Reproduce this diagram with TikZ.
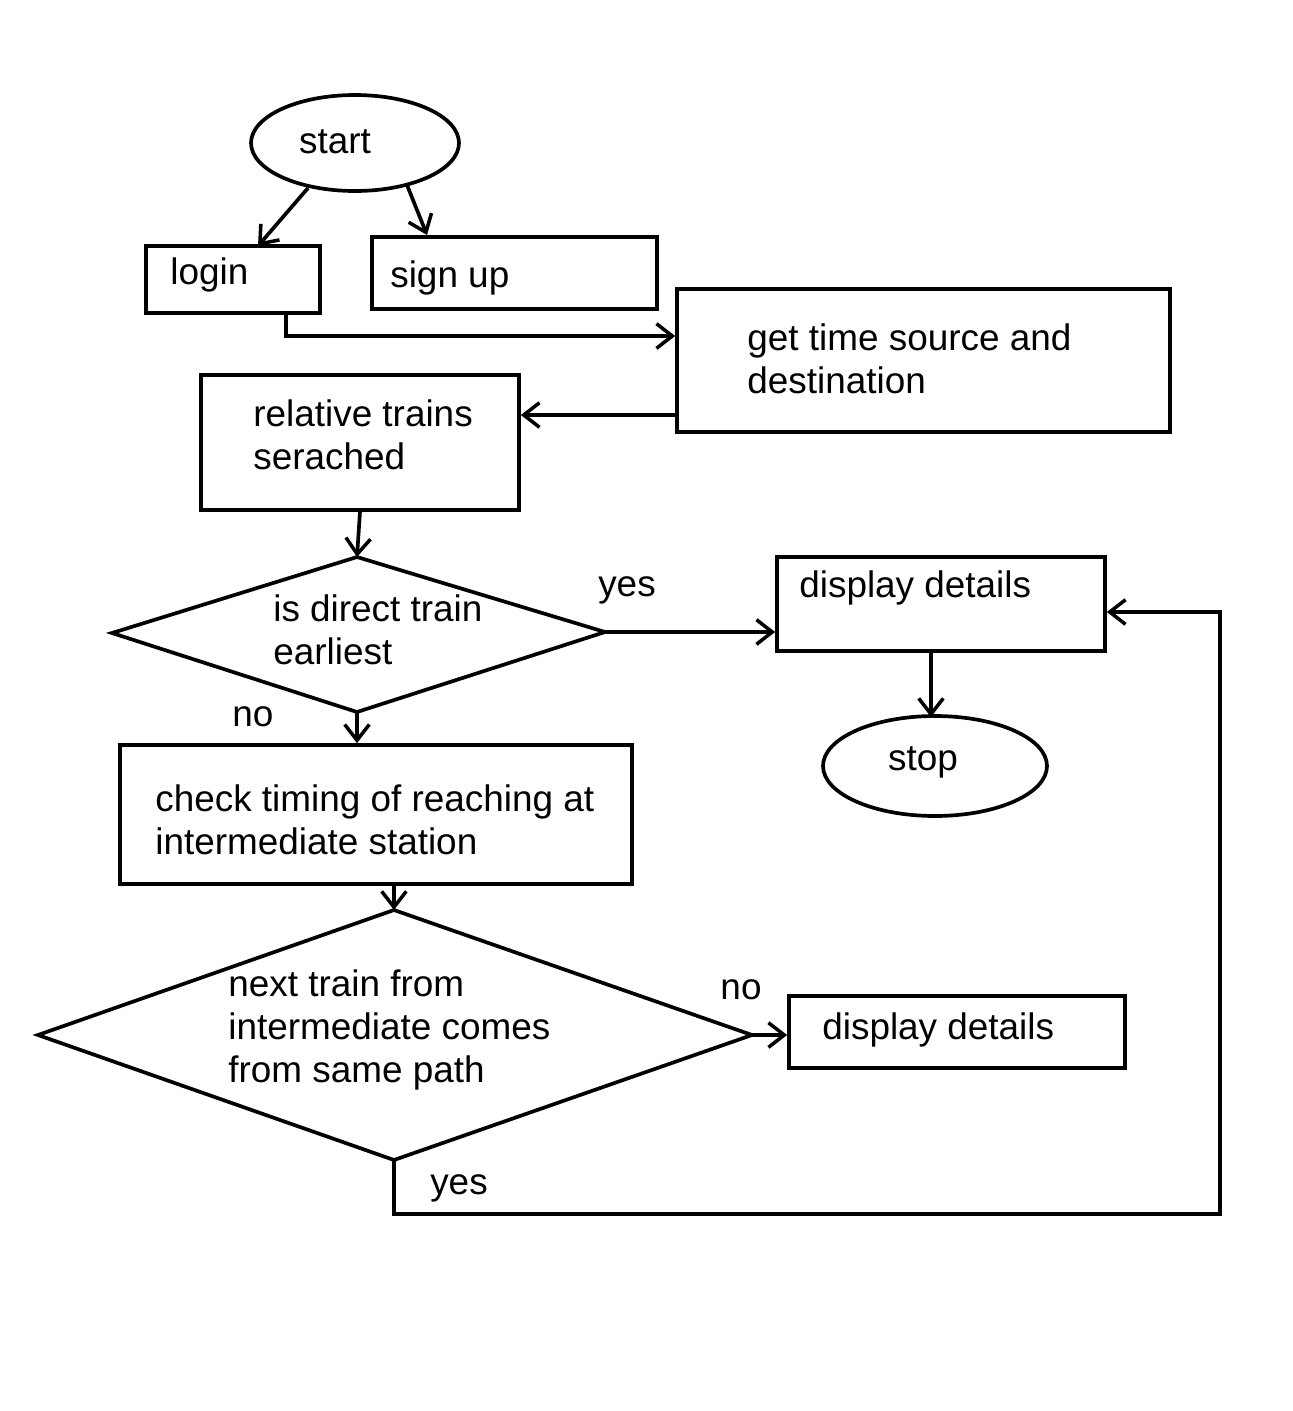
\documentclass[tikz,border=0pt]{standalone}
\usepackage{fontspec}
\setmainfont{Liberation Sans}
\usetikzlibrary{arrows.meta,shapes.geometric}
\begin{document}
\begin{tikzpicture}[x=0.02cm,y=-0.02cm,
  lw/.style={line width=2.1pt},
  box/.style={draw,lw,rectangle,inner sep=0pt},
  oval/.style={draw,lw,ellipse,inner sep=0pt},
  dia/.style={draw,lw,line join=miter},
  txt/.style={font=\fontsize{21}{24.5}\selectfont,anchor=west,align=left,inner sep=0pt},
  arr/.style={-{Straight Barb[length=9pt,width=14pt,line width=2pt]},lw},
  lbl/.style={font=\fontsize{21}{24.5}\selectfont,inner sep=0pt}]
\useasboundingbox (0,0) rectangle (1293,1411);
% shapes
\node[oval,minimum width=208*0.02cm,minimum height=96*0.02cm] (start) at (355,143) {};
\node[txt,anchor=center] at (335,142) {start};
\node[box,minimum width=174*0.02cm,minimum height=67*0.02cm] (login) at (233,279.5) {};
\node[txt] at (170,275) {login};
\node[box,minimum width=285*0.02cm,minimum height=72*0.02cm] (signup) at (514.5,273) {};
\node[txt] at (390,278) {sign up};
\node[box,minimum width=493*0.02cm,minimum height=143*0.02cm] (gettime) at (923.5,360.5) {};
\node[txt] at (747,359) {get time source and\\destination};
\node[box,minimum width=318*0.02cm,minimum height=135*0.02cm] (rel) at (360,442.5) {};
\node[txt] at (253,435) {relative trains\\serached};
\coordinate (d1l) at (112,633);
\coordinate (d1t) at (357,557);
\coordinate (d1r) at (605,632);
\coordinate (d1b) at (357,712);
\draw[dia] (d1l) -- (d1t) -- (d1r) -- (d1b) -- cycle;
\node[txt] at (273,630) {is direct train\\earliest};
\node[box,minimum width=328*0.02cm,minimum height=94*0.02cm] (disp1) at (941,604) {};
\node[txt] at (799,588) {display details};
\node[oval,minimum width=224*0.02cm,minimum height=100*0.02cm] (stop) at (935,766) {};
\node[txt,anchor=center] at (923,762) {stop};
\node[box,minimum width=512*0.02cm,minimum height=139*0.02cm] (check) at (376,814.5) {};
\node[txt] at (155,820) {check timing of reaching at\\intermediate station};
\coordinate (d2l) at (38,1035);
\coordinate (d2t) at (394,910);
\coordinate (d2r) at (752,1035);
\coordinate (d2b) at (394,1160);
\draw[dia] (d2l) -- (d2t) -- (d2r) -- (d2b) -- cycle;
\node[txt] at (228,1030) {next train from\\intermediate comes\\from same path};
\node[box,minimum width=336*0.02cm,minimum height=72*0.02cm] (disp2) at (957,1032) {};
\node[txt] at (822,1030) {display details};
% labels
\node[lbl] at (627,590) {yes};
\node[lbl] at (253,717) {no};
\node[lbl] at (741,990) {no};
\node[lbl] at (459,1188) {yes};
% connectors
\coordinate (s1) at (308,188);
\coordinate (s2) at (407,185);
\draw[arr] (s1) -- (258,246);
\draw[arr] (s2) -- (427,235);
\draw[arr] (login.south -| 286,0) -- (286,336) -- (gettime.west |- 0,336);
\draw[arr] (gettime.west |- 0,415) -- (rel.east |- 0,415);
\draw[arr] (rel.south) -- (d1t);
\draw[arr] (d1r) -- (disp1.west |- d1r);
\draw[arr] (disp1.south -| 931,0) -- (931,717);
\draw[arr] (d1b) -- (check.north -| d1b);
\draw[arr] (check.south -| d2t) -- (d2t);
\draw[arr] (d2r) -- (disp2.west |- d2r);
\draw[arr] (d2b) -- (394,1214) -- (1220,1214) -- (1220,612) -- (disp1.east |- 0,612);
\end{tikzpicture}
\end{document}
